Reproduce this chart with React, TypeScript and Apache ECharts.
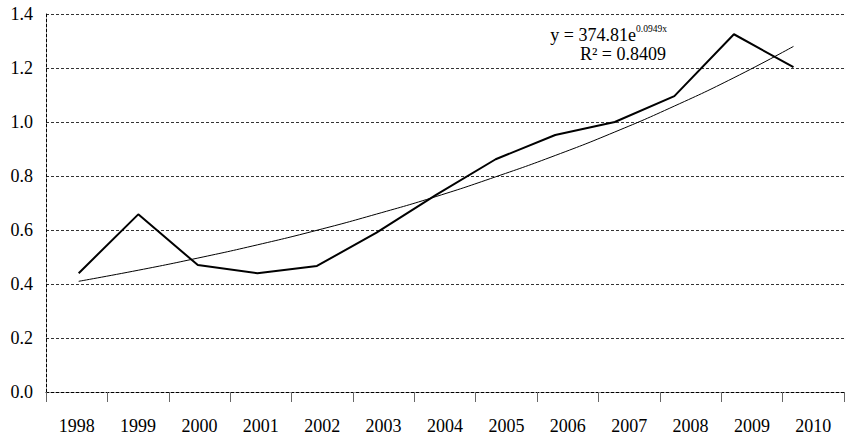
import React, { useEffect, useRef } from "react";
import * as echarts from "echarts";

// Years on the category axis
const years = [
  "1998", "1999", "2000", "2001", "2002", "2003", "2004",
  "2005", "2006", "2007", "2008", "2009", "2010",
];

// Observed series
const observed = [
  0.44, 0.658, 0.47, 0.44, 0.467, 0.59, 0.73,
  0.862, 0.952, 1.0, 1.096, 1.325, 1.203,
];

// Exponential trend line values
const trend = [
  0.41, 0.451, 0.496, 0.545, 0.599, 0.659, 0.724,
  0.797, 0.876, 0.963, 1.059, 1.164, 1.28,
];

// Y-axis tick range
const yTicks = { min: 0, max: 1.4, step: 0.2 };

const equationText = "y = 374.81e";
const equationExp = "0.0949x";
const rSquaredText = "R² = 0.8409";

const FONT = "Liberation Serif";

export default function App() {
  const ref = useRef<HTMLDivElement>(null);

  useEffect(() => {
    document.body.style.margin = "0";
    if (!ref.current) return;
    const chart = echarts.init(ref.current, undefined, { renderer: "svg" });

    const dashed = [3, 2];

    chart.setOption({
      animation: false,
      backgroundColor: "#ffffff",
      textStyle: { fontFamily: FONT },
      grid: { left: 46, right: 2, top: 14, bottom: 43, containLabel: false },
      xAxis: [
        {
          type: "category",
          data: years,
          boundaryGap: true,
          axisLine: {
            show: true,
            onZero: false,
            lineStyle: { color: "#000", width: 1, type: dashed },
          },
          axisTick: {
            show: true,
            alignWithLabel: false,
            length: 10,
            lineStyle: { color: "#666", width: 1 },
          },
          axisLabel: {
            interval: 0,
            margin: 25,
            color: "#000",
            fontFamily: FONT,
            fontSize: 18,
          },
          splitLine: { show: false },
        },
        {
          // position scale for the plotted lines
          type: "value",
          show: false,
          min: -0.549,
          max: 12.848,
          splitLine: { show: false },
        },
      ],
      yAxis: {
        type: "value",
        min: yTicks.min,
        max: yTicks.max,
        interval: yTicks.step,
        axisLine: {
          show: true,
          onZero: false,
          lineStyle: { color: "#000", width: 1, type: dashed },
        },
        axisTick: { show: false },
        axisLabel: {
          margin: 13,
          color: "#000",
          fontFamily: FONT,
          fontSize: 18,
          formatter: (v: number) => v.toFixed(1),
        },
        splitLine: {
          show: true,
          lineStyle: { color: "#333", width: 1, type: dashed },
        },
      },
      series: [
        {
          type: "line",
          xAxisIndex: 1,
          data: observed.map((v, i) => [i, v]),
          symbol: "none",
          lineStyle: { color: "#000", width: 2 },
          z: 3,
        },
        {
          type: "line",
          xAxisIndex: 1,
          data: trend.map((v, i) => [i, v]),
          symbol: "none",
          smooth: true,
          lineStyle: { color: "#000", width: 1 },
          z: 2,
        },
      ],
      graphic: [
        {
          type: "text",
          x: 636,
          y: 35,
          style: {
            text: equationText,
            align: "right",
            verticalAlign: "middle",
            fill: "#000",
            fontFamily: FONT,
            fontSize: 18,
          },
        },
        {
          type: "text",
          x: 636,
          y: 24,
          style: {
            text: equationExp,
            align: "left",
            verticalAlign: "top",
            fill: "#000",
            fontFamily: FONT,
            fontSize: 9.5,
          },
        },
        {
          type: "text",
          x: 666,
          y: 53.5,
          style: {
            text: rSquaredText,
            align: "right",
            verticalAlign: "middle",
            fill: "#000",
            fontFamily: FONT,
            fontSize: 18,
          },
        },
      ],
    });

    return () => chart.dispose();
  }, []);

  return <div ref={ref} style={{ width: 846, height: 435 }} />;
}
